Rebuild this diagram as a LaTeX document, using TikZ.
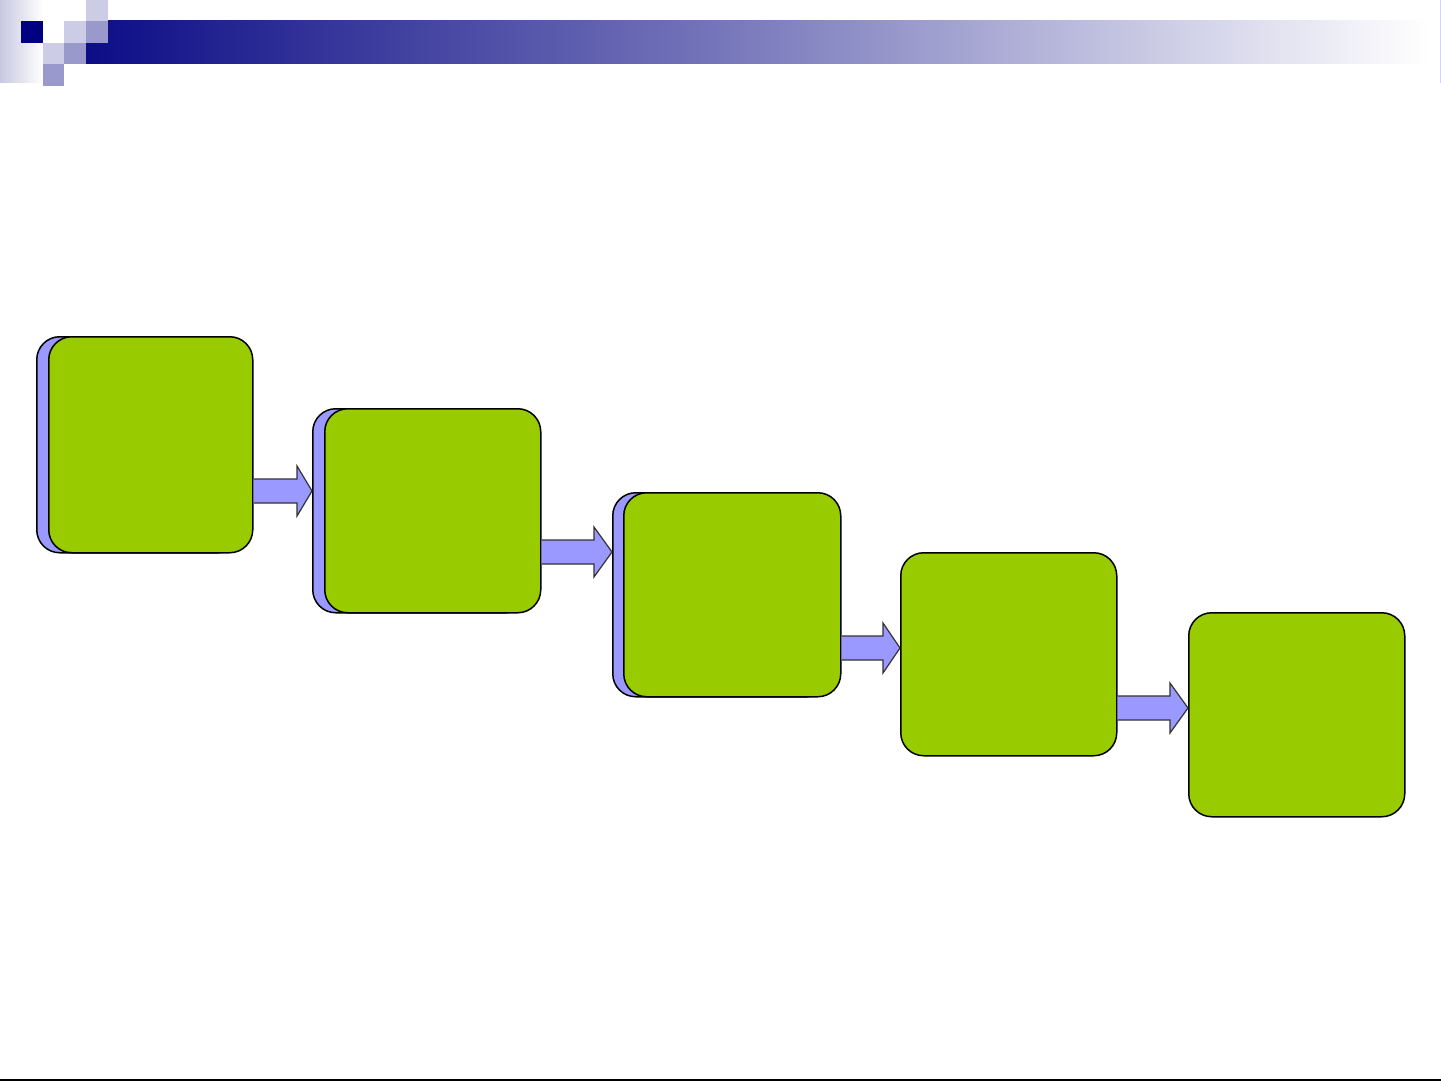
\documentclass[tikz,border=0pt]{standalone}
\usetikzlibrary{calc}
\definecolor{navyc}{HTML}{000080}
\definecolor{lightsq}{HTML}{CCCCE6}
\definecolor{medsq}{HTML}{9999CC}
\definecolor{boxgreen}{HTML}{99CC00}
\definecolor{lav}{HTML}{9999FF}
\definecolor{bandl}{HTML}{C8C8E2}
\pgfdeclarehorizontalshading{banner}{100bp}{
  color(0bp)=(navyc!95!white);
  color(25bp)=(navyc!95!white);
  color(36.5bp)=(navyc!75!white);
  color(48bp)=(navyc!55!white);
  color(55.5bp)=(navyc!40!white);
  color(66.5bp)=(navyc!17!white);
  color(75bp)=(white);
  color(100bp)=(white)}
\tikzset{
  stepbox/.style={rectangle, rounded corners=11.5pt, draw=black, line width=0.75pt,
    fill=boxgreen, inner sep=0pt, minimum width=102pt, minimum height=102pt, anchor=north west},
  shadowbox/.style={stepbox, fill=lav},
  blockarrow/.style={fill=lav, draw=black!80, line width=0.6pt, line join=miter}
}
\begin{document}
\begin{tikzpicture}[x=0.5pt, y=-0.5pt]
\useasboundingbox (0,0) rectangle (1441,1081);
% header
\shade[left color=bandl, right color=white] (0,0) rectangle (43,83);
\shade[shading=banner] (86,21) rectangle (1429,64);
\draw[color=lav!45!white, line width=0.5pt] (1440,0) -- (1440,83);
\fill[lightsq] (86,0) rectangle (108,21);
\fill[navyc] (21,21) rectangle (43,43);
\fill[lightsq] (64,21) rectangle (86,43);
\fill[medsq] (86,21) rectangle (108,43);
\fill[lightsq] (43,43) rectangle (64,64);
\fill[medsq] (64,43) rectangle (86,64);
\fill[medsq] (43,64) rectangle (64,86);
% boxes
\node[shadowbox, minimum height=108pt] (s1) at (36,336) {};
\node[stepbox, minimum height=108pt] (b1) at (48,336) {};
\node[shadowbox, minimum width=108pt] (s2) at (312,408) {};
\node[stepbox, minimum width=108pt] (b2) at (324,408) {};
\node[shadowbox, minimum width=108.5pt] (s3) at (612,492) {};
\node[stepbox, minimum width=108.5pt] (b3) at (623,492) {};
\node[stepbox, minimum width=108pt, minimum height=101.5pt] (b4) at (900,552) {};
\node[stepbox, minimum width=108pt] (b5) at (1188,612) {};
% block arrows
\draw[blockarrow] let \p1=(b1.east), \p2=(s2.west), \p3=(0,491) in
  (\x1,\y3+6pt) -- (\x2-7.5pt,\y3+6pt) -- (\x2-7.5pt,\y3+12.5pt) -- (\x2,\y3)
  -- (\x2-7.5pt,\y3-12.5pt) -- (\x2-7.5pt,\y3-6pt) -- (\x1,\y3-6pt);
\draw[blockarrow] let \p1=(b2.east), \p2=(s3.west), \p3=(0,552) in
  (\x1,\y3+6pt) -- (\x2-9pt,\y3+6pt) -- (\x2-9pt,\y3+12.5pt) -- (\x2,\y3)
  -- (\x2-9pt,\y3-12.5pt) -- (\x2-9pt,\y3-6pt) -- (\x1,\y3-6pt);
\draw[blockarrow] let \p1=(b3.east), \p2=(b4.west), \p3=(0,648) in
  (\x1,\y3+6pt) -- (\x2-8.5pt,\y3+6pt) -- (\x2-8.5pt,\y3+12.5pt) -- (\x2,\y3)
  -- (\x2-8.5pt,\y3-12.5pt) -- (\x2-8.5pt,\y3-6pt) -- (\x1,\y3-6pt);
\draw[blockarrow] let \p1=(b4.east), \p2=(b5.west), \p3=(0,708) in
  (\x1,\y3+6pt) -- (\x2-9pt,\y3+6pt) -- (\x2-9pt,\y3+12.5pt) -- (\x2,\y3)
  -- (\x2-9pt,\y3-12.5pt) -- (\x2-9pt,\y3-6pt) -- (\x1,\y3-6pt);
% bottom rule
\draw[black, line width=0.7pt] (0,1080) -- (1441,1080);
\end{tikzpicture}
\end{document}
